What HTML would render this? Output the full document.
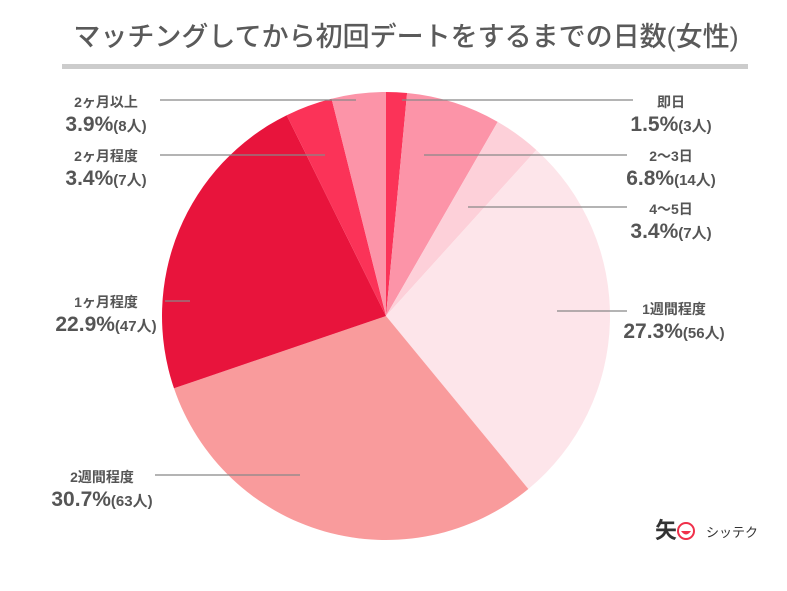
<!DOCTYPE html>
<html><head><meta charset="utf-8"><style>
body{margin:0;background:#fff;width:787px;height:586px;overflow:hidden}
svg text{font-family:"Liberation Sans","Noto Sans CJK JP",sans-serif;fill:#555;font-weight:bold}
</style></head><body>
<svg id="s" width="787" height="586" xmlns="http://www.w3.org/2000/svg">
<text x="406" y="46" text-anchor="middle" font-size="27" style="font-weight:500;fill:#5a5a5a">マッチングしてから初回デートをするまでの日数(女性)</text>
<rect x="62" y="64" width="686" height="5" fill="#cccccc"/>
<g id="pie"></g>
<g stroke="#888" stroke-width="1.2">
<line x1="402" y1="100" x2="633" y2="100"/>
<line x1="424" y1="155" x2="627" y2="155"/>
<line x1="468" y1="207" x2="627" y2="207"/>
<line x1="557" y1="311" x2="627" y2="311"/>
<line x1="160" y1="100" x2="356" y2="100"/>
<line x1="160" y1="155" x2="325" y2="155"/>
<line x1="165" y1="301" x2="190" y2="301"/>
<line x1="155" y1="475" x2="300" y2="475"/>
</g>
<g text-anchor="middle">
<text x="671" y="107" font-size="14">即日</text>
<text x="671" y="131"><tspan font-size="21">1.5%</tspan><tspan font-size="15">(3人)</tspan></text>
<text x="671" y="161" font-size="14">2〜3日</text>
<text x="671" y="185"><tspan font-size="21">6.8%</tspan><tspan font-size="15">(14人)</tspan></text>
<text x="671" y="214" font-size="14">4〜5日</text>
<text x="671" y="238"><tspan font-size="21">3.4%</tspan><tspan font-size="15">(7人)</tspan></text>
<text x="674" y="314" font-size="14">1週間程度</text>
<text x="674" y="338"><tspan font-size="21">27.3%</tspan><tspan font-size="15">(56人)</tspan></text>
<text x="106" y="107" font-size="14">2ヶ月以上</text>
<text x="106" y="131"><tspan font-size="21">3.9%</tspan><tspan font-size="15">(8人)</tspan></text>
<text x="106" y="161" font-size="14">2ヶ月程度</text>
<text x="106" y="185"><tspan font-size="21">3.4%</tspan><tspan font-size="15">(7人)</tspan></text>
<text x="106" y="307" font-size="14">1ヶ月程度</text>
<text x="106" y="331"><tspan font-size="21">22.9%</tspan><tspan font-size="15">(47人)</tspan></text>
<text x="102" y="482" font-size="14">2週間程度</text>
<text x="102" y="506"><tspan font-size="21">30.7%</tspan><tspan font-size="15">(63人)</tspan></text>
</g>
<text x="655" y="538" font-size="22" style="fill:#333">矢</text>
<circle cx="686" cy="531" r="8" fill="none" stroke="#f0304a" stroke-width="2"/>
<path d="M681 531 Q686 538 691 531 Z" fill="#f0304a"/>
<text x="706" y="537" font-size="13" style="fill:#333;font-weight:normal">シッテク</text>
</svg>
<script>
var d=[[1.5,"#fb3358"],[6.8,"#fc94a8"],[3.4,"#fdd0d9"],[27.3,"#fde5ea"],[30.7,"#f99b9c"],[22.9,"#e8143c"],[3.4,"#fb3358"],[3.9,"#fc94a8"]];
var cx=386,cy=316,r=224,a=0,tot=99.9,g=document.getElementById("pie"),h="";
d.forEach(function(v){var a2=a+v[0]/tot*2*Math.PI;
var x1=cx+r*Math.sin(a),y1=cy-r*Math.cos(a),x2=cx+r*Math.sin(a2),y2=cy-r*Math.cos(a2);
h+='<path d="M'+cx+' '+cy+'L'+x1+' '+y1+'A'+r+' '+r+' 0 '+((a2-a)>Math.PI?1:0)+' 1 '+x2+' '+y2+'Z" fill="'+v[1]+'"/>';a=a2;});
g.innerHTML=h;
</script>
</body></html>
